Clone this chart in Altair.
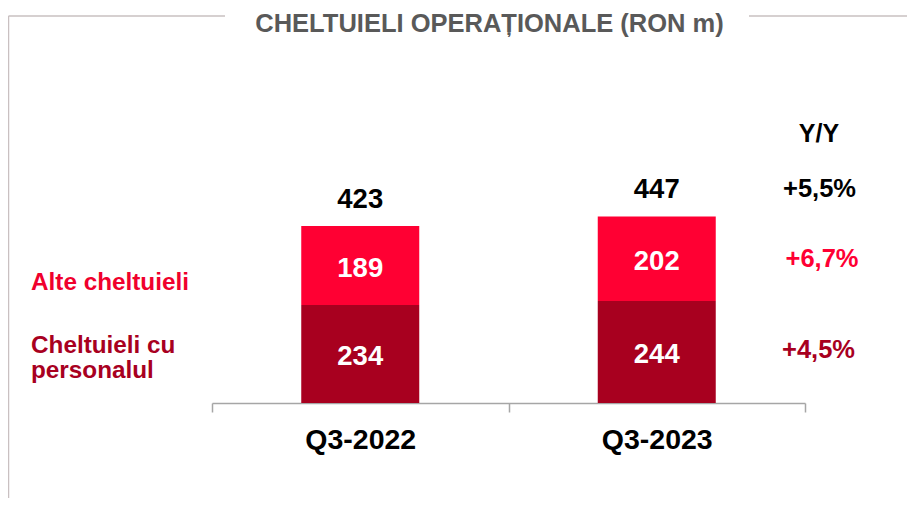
import altair as alt
import pandas as pd

# ---- data ----
categories = ["Q3-2022", "Q3-2023"]
personal = [234, 244]
alte = [189, 202]
totals = [423, 447]
components = ["Cheltuieli cu personalul", "Alte cheltuieli"]
yoy_header = "Y/Y"
yoy_labels = ["+5,5%", "+6,7%", "+4,5%"]
title_text = "CHELTUIELI OPERAȚIONALE (RON m)"

# ---- styles ----
RED = "#ff0033"
DARK = "#a8001f"
GRAY_TITLE = "#595959"
FRAME = "#c9c0c1"
AXIS = "#a6a6a6"
FONT = "Liberation Sans"

rows = []
for c, p, a in zip(categories, personal, alte):
    rows.append({"cat": c, "comp": components[0], "start": 0, "end": p, "mid": p / 2, "val": p})
    rows.append({"cat": c, "comp": components[1], "start": p, "end": p + a, "mid": p + a / 2, "val": a})
seg = pd.DataFrame(rows)
tot = pd.DataFrame({"cat": categories, "total": totals})

W, H = 593, 343
xscale = alt.Scale(domain=categories, paddingInner=0, paddingOuter=0)
yscale = alt.Scale(domain=[0, 820], nice=False, zero=True)

xaxis = alt.Axis(
    title=None, tickBand="extent", domainColor=AXIS, tickColor=AXIS,
    domainWidth=1.5, tickWidth=1.5, tickSize=9, labelAngle=0,
    labelFont=FONT, labelFontSize=28.5, labelFontWeight="bold", labelColor="black",
    labelPadding=36, labelBaseline="alphabetic", grid=False,
)

bars = alt.Chart(seg).mark_bar(size=118).encode(
    x=alt.X("cat:N", scale=xscale, axis=xaxis, sort=categories),
    y=alt.Y("start:Q", scale=yscale, axis=None),
    y2="end:Q",
    color=alt.Color("comp:N", scale=alt.Scale(domain=components, range=[DARK, RED]), legend=None),
)

inner = alt.Chart(seg).mark_text(
    color="white", font=FONT, fontSize=27.5, fontWeight="bold", baseline="alphabetic", dy=11
).encode(
    x=alt.X("cat:N", scale=xscale, sort=categories),
    y=alt.Y("mid:Q", scale=yscale),
    text="val:Q",
)

top = alt.Chart(tot).mark_text(
    color="black", font=FONT, fontSize=27.5, fontWeight="bold", baseline="alphabetic", dy=-18
).encode(
    x=alt.X("cat:N", scale=xscale, sort=categories),
    y=alt.Y("total:Q", scale=yscale),
    text="total:Q",
)


def label(text, x, y, color, size, align="center", line_height=None):
    kw = dict(color=color, font=FONT, fontSize=size, fontWeight="bold",
              baseline="alphabetic", align=align)
    if line_height:
        kw["lineBreak"] = "\n"
        kw["lineHeight"] = line_height
    return alt.Chart(pd.DataFrame({"t": [text]})).mark_text(**kw).encode(
        x=alt.value(x), y=alt.value(y), text="t:N"
    )


def rule(x, x2, y, y2):
    return alt.Chart(pd.DataFrame({"a": [0]})).mark_rule(color=FRAME, strokeWidth=1.5).encode(
        x=alt.value(x), x2=alt.value(x2), y=alt.value(y), y2=alt.value(y2)
    )


layers = [
    rule(-203.5, 13, -44, -44),
    rule(537, 720, -44, -44),
    rule(-203.5, -203.5, -44, 450),
    label(title_text, 277.5, -28.5, GRAY_TITLE, 25.5),
    bars, inner, top,
    label("Alte cheltuieli", -181, 230, "#f0002d", 24.3, align="left"),
    label("Cheltuieli cu\npersonalul", -181, 293, DARK, 24.3, align="left", line_height=25),
    label(yoy_header, 607, 82, "black", 25),
    label(yoy_labels[0], 607.5, 137, "black", 25.5),
    label(yoy_labels[1], 610, 207, RED, 25.5),
    label(yoy_labels[2], 606.5, 298, DARK, 25.5),
]

chart = alt.layer(*layers).properties(
    width=W, height=H,
    padding={"left": 204, "top": 52, "right": 102, "bottom": 95},
    autosize=alt.AutoSizeParams(type="none"),
    background="white",
).configure_view(stroke=None)

chart.save("out.html", embed_options={"renderer": "svg", "actions": False})
